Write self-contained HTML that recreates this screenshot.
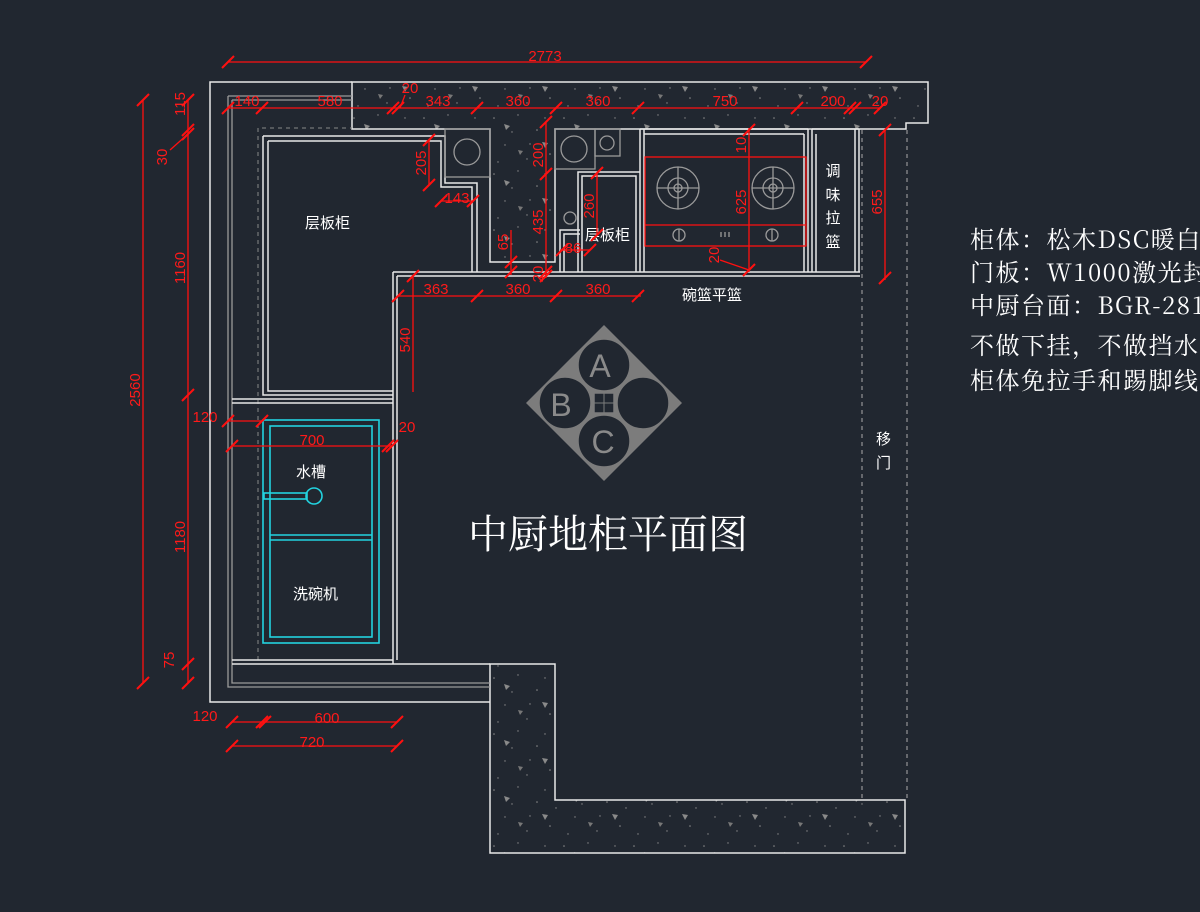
<!DOCTYPE html>
<html><head><meta charset="utf-8"><style>
html,body{margin:0;padding:0;background:#212730;width:1200px;height:912px;overflow:hidden}
svg{display:block}
.w{stroke:#e8e8e8;fill:none;stroke-width:1.5}
.g{stroke:#9a9a9a;fill:none;stroke-width:1.3}
.r{stroke:#ff1010;fill:none;stroke-width:1.3}
.c{stroke:#22d3e0;fill:none;stroke-width:1.6}
.rt{fill:#ff1a1a;font-family:"Liberation Sans",sans-serif;font-size:15px}
.wt{fill:#fff;font-family:"Liberation Sans","Noto Sans CJK SC",sans-serif;font-size:15px}
.st{fill:#fff;font-family:"Liberation Serif","Noto Serif CJK SC",serif}
.nt{fill:#fff;font-family:"Noto Serif CJK SC",serif}
</style></head><body>
<svg width="1200" height="912" viewBox="0 0 1200 912" xmlns="http://www.w3.org/2000/svg">
<defs>
<pattern id="sp" width="70" height="56" patternUnits="userSpaceOnUse">
<g fill="#8a8a8a"><circle cx="4" cy="6" r="0.8"/><circle cx="28" cy="3" r="0.7"/><circle cx="47" cy="18" r="0.8"/><circle cx="15" cy="33" r="0.7"/><circle cx="60" cy="42" r="0.8"/><circle cx="37" cy="47" r="0.7"/><circle cx="8" cy="50" r="0.7"/><circle cx="55" cy="6" r="0.7"/><circle cx="40" cy="32" r="0.7"/><circle cx="66" cy="24" r="0.7"/><circle cx="22" cy="20" r="0.7"/>
<path d="M14 12 l6 2 l-4 4z"/><path d="M52 30 l6 1 l-3 5z"/><path d="M28 38 l5 1 l-3 4z" fill="#777"/></g>
</pattern>
<g id="tk"><line x1="-6" y1="6" x2="6" y2="-6" stroke="#ff1010" stroke-width="2"/></g>
</defs>

<path d="M352 82 H928 V123 H906 V129 H555 V262 H490 V129 H352 Z" style="fill:url(#sp);stroke:#e8e8e8;stroke-width:1.5"/>
<path d="M490 664 H555 V800 H905 V853 H490 Z" style="fill:url(#sp);stroke:#e8e8e8;stroke-width:1.5"/>

<path class="w" d="M352 82 H210 V702 H490"/>
<path class="g" d="M228 96 H352 M228 96 V687 H490 M232 100 H352 M232 100 V683 H490"/>
<path d="M262 128 H352 M258 128 V660" stroke="#888" stroke-dasharray="4 4" fill="none"/>
<line x1="862" y1="130" x2="862" y2="800" stroke="#aaa" stroke-dasharray="4 4"/>
<line x1="907" y1="130" x2="907" y2="800" stroke="#aaa" stroke-dasharray="4 4"/>

<path class="w" d="M263 136 H445 V183 H477 V272"/>
<path class="w" d="M268 141 H441 V187 H472 V272"/>
<path class="w" d="M263 136 V395 H393 M268 141 V391 H393"/>
<rect class="g" x="445" y="129" width="45" height="48"/>
<circle class="g" cx="467" cy="152" r="13"/>
<path class="w" d="M393 272 H860 M397 276 H860 M393 272 V664 M397 276 V660"/>
<path class="w" d="M232 399 H393 M232 403 H393 M232 660 H393 M232 664 H490"/>
<rect class="g" x="555" y="129" width="40" height="40"/>
<circle class="g" cx="574" cy="149" r="13"/>
<rect class="g" x="595" y="129" width="25" height="27"/>
<circle class="g" cx="607" cy="143" r="7"/>
<circle class="g" cx="570" cy="218" r="6"/>
<path class="w" d="M578 272 V172 H640 M582 272 V176 H636 V272 M560 272 V230 H580 M564 272 V234 H580"/>
<path class="w" d="M640 129 V272 M644 129 V272 M640 129 H808 M644 134 H804 M804 134 V272 M808 129 V272 M812 129 V272 M816 134 V272 M855 129 V272 M859 129 V272 M812 129 H859"/>
<rect class="r" x="645" y="157" width="161" height="89" stroke-width="1.6"/>
<line class="r" x1="645" y1="225" x2="806" y2="225"/>
<g class="g" stroke-width="1.6">
<circle cx="678" cy="188" r="21"/><circle cx="678" cy="188" r="10"/><circle cx="678" cy="188" r="4"/>
<path d="M657 188 H699 M678 167 V209"/>
<circle cx="773" cy="188" r="21"/><circle cx="773" cy="188" r="10"/><circle cx="773" cy="188" r="4"/>
<path d="M752 188 H794 M773 167 V209"/>
<circle cx="679" cy="235" r="6"/><line x1="679" y1="229" x2="679" y2="241"/>
<circle cx="772" cy="235" r="6"/><line x1="772" y1="229" x2="772" y2="241"/>
<path d="M721 232 v5 M725 232 v5 M729 232 v5"/>
</g>
<text class="wt" font-size="19" x="833" y="176" text-anchor="middle">调</text>
<text class="wt" font-size="19" x="833" y="200" text-anchor="middle">味</text>
<text class="wt" font-size="19" x="833" y="223" text-anchor="middle">拉</text>
<text class="wt" font-size="19" x="833" y="247" text-anchor="middle">篮</text>
<text class="wt" x="305" y="228">层板柜</text>
<text class="wt" x="585" y="240">层板柜</text>
<text class="wt" x="682" y="300">碗篮平篮</text>

<rect class="c" x="263" y="420" width="116" height="223"/>
<rect class="c" x="270" y="426" width="102" height="211"/>
<path class="c" d="M270 535 H372 M270 540 H372"/>
<rect class="c" x="264" y="493" width="43" height="6"/>
<circle class="c" cx="314" cy="496" r="8"/>
<text class="wt" x="296" y="477">水槽</text>
<text class="wt" x="293" y="599">洗碗机</text>

<g>
<path d="M604 325 L682 403 L604 481 L526 403 Z" fill="#7c7c7c"/>
<g fill="#212730" stroke="#7c7c7c" stroke-width="1.5">
<circle cx="604" cy="365" r="26"/><circle cx="565" cy="403" r="26"/><circle cx="604" cy="441" r="26"/><circle cx="643" cy="403" r="26"/>
<rect x="594" y="393" width="20" height="20"/>
</g>
<path d="M604 393 V413 M594 403 H614" stroke="#7c7c7c"/>
<g fill="#8a8a8a" font-family="Liberation Sans Narrow,Liberation Sans,sans-serif" font-size="32" text-anchor="middle">
<text x="600" y="377">A</text><text x="561" y="416">B</text><text x="603" y="453">C</text></g>
</g>

<text class="st" x="608" y="548" font-size="40" text-anchor="middle">中厨地柜平面图</text>
<text class="wt" font-size="19" x="876" y="444">移</text>
<text class="wt" font-size="19" x="876" y="468">门</text>

<g class="nt" font-size="24" letter-spacing="1.5">
<text x="970" y="248">柜体：松木DSC暖白</text>
<text x="970" y="281">门板：W1000激光封边</text>
<text x="970" y="314">中厨台面：BGR-2818</text>
<text x="970" y="354">不做下挂，不做挡水</text>
<text x="970" y="389">柜体免拉手和踢脚线</text>
</g>

<g class="r">
<line x1="228" y1="62" x2="866" y2="62"/>
<line x1="228" y1="108" x2="880" y2="108"/>
<line x1="398" y1="296" x2="641" y2="296"/>
<line x1="143" y1="100" x2="143" y2="683"/>
<line x1="188" y1="100" x2="188" y2="683"/>
<path d="M188 134 L170 150"/>
<line x1="228" y1="421" x2="262" y2="421"/>
<line x1="232" y1="446" x2="392" y2="446"/>
<line x1="232" y1="722" x2="397" y2="722"/>
<line x1="232" y1="746" x2="397" y2="746"/>
<line x1="413" y1="276" x2="413" y2="392"/>
<line x1="429" y1="140" x2="429" y2="185"/>
<line x1="441" y1="201" x2="473" y2="201"/>
<line x1="546" y1="122" x2="546" y2="278"/>
<line x1="597" y1="173" x2="597" y2="235"/>
<line x1="560" y1="250" x2="590" y2="250"/>
<line x1="511" y1="230" x2="511" y2="275"/>
<line x1="749" y1="128" x2="749" y2="272"/>
<path d="M720 260 L749 270"/>
<line x1="885" y1="130" x2="885" y2="280"/>
<line x1="400" y1="108" x2="405" y2="95"/>
</g>
<g>
<use href="#tk" x="228" y="62"/><use href="#tk" x="866" y="62"/>
<use href="#tk" x="228" y="108"/><use href="#tk" x="262" y="108"/><use href="#tk" x="393" y="108"/><use href="#tk" x="398" y="108"/><use href="#tk" x="477" y="108"/><use href="#tk" x="556" y="108"/><use href="#tk" x="638" y="108"/><use href="#tk" x="797" y="108"/><use href="#tk" x="850" y="108"/><use href="#tk" x="855" y="108"/><use href="#tk" x="880" y="108"/>
<use href="#tk" x="398" y="296"/><use href="#tk" x="477" y="296"/><use href="#tk" x="556" y="296"/><use href="#tk" x="638" y="296"/>
<use href="#tk" x="143" y="100"/><use href="#tk" x="143" y="683"/>
<use href="#tk" x="188" y="100"/><use href="#tk" x="188" y="130"/><use href="#tk" x="188" y="134"/><use href="#tk" x="188" y="395"/><use href="#tk" x="188" y="664"/><use href="#tk" x="188" y="683"/>
<use href="#tk" x="228" y="421"/><use href="#tk" x="262" y="421"/>
<use href="#tk" x="232" y="446"/><use href="#tk" x="392" y="446"/><use href="#tk" x="388" y="446"/>
<use href="#tk" x="232" y="722"/><use href="#tk" x="262" y="722"/><use href="#tk" x="265" y="722"/><use href="#tk" x="397" y="722"/>
<use href="#tk" x="232" y="746"/><use href="#tk" x="397" y="746"/>
<use href="#tk" x="413" y="276"/><use href="#tk" x="429" y="140"/><use href="#tk" x="429" y="185"/>
<use href="#tk" x="441" y="201"/><use href="#tk" x="473" y="201"/>
<use href="#tk" x="546" y="122"/><use href="#tk" x="546" y="174"/><use href="#tk" x="546" y="272"/><use href="#tk" x="546" y="276"/>
<use href="#tk" x="597" y="173"/><use href="#tk" x="597" y="235"/><use href="#tk" x="562" y="250"/><use href="#tk" x="590" y="250"/>
<use href="#tk" x="511" y="262"/><use href="#tk" x="511" y="272"/>
<use href="#tk" x="749" y="130"/><use href="#tk" x="749" y="270"/>
<use href="#tk" x="885" y="130"/><use href="#tk" x="885" y="278"/>
</g>
<g class="rt">
<text x="545" y="61" text-anchor="middle">2773</text>
<text x="247" y="106" text-anchor="middle">140</text>
<text x="330" y="106" text-anchor="middle">580</text>
<text x="410" y="93" text-anchor="middle">20</text>
<text x="438" y="106" text-anchor="middle">343</text>
<text x="518" y="106" text-anchor="middle">360</text>
<text x="598" y="106" text-anchor="middle">360</text>
<text x="725" y="106" text-anchor="middle">750</text>
<text x="833" y="106" text-anchor="middle">200</text>
<text x="880" y="106" text-anchor="middle">20</text>
<text x="436" y="294" text-anchor="middle">363</text>
<text x="518" y="294" text-anchor="middle">360</text>
<text x="598" y="294" text-anchor="middle">360</text>
<text x="457" y="203" text-anchor="middle">143</text>
<text x="573" y="253" text-anchor="middle">86</text>
<text x="205" y="422" text-anchor="middle">120</text>
<text x="312" y="445" text-anchor="middle">700</text>
<text x="407" y="432" text-anchor="middle">20</text>
<text x="205" y="721" text-anchor="middle">120</text>
<text x="327" y="723" text-anchor="middle">600</text>
<text x="312" y="747" text-anchor="middle">720</text>
<g text-anchor="middle">
<text transform="translate(140,390) rotate(-90)">2560</text>
<text transform="translate(185,268) rotate(-90)">1160</text>
<text transform="translate(185,537) rotate(-90)">1180</text>
<text transform="translate(185,104) rotate(-90)">115</text>
<text transform="translate(167,157) rotate(-90)">30</text>
<text transform="translate(174,660) rotate(-90)">75</text>
<text transform="translate(410,340) rotate(-90)">540</text>
<text transform="translate(426,163) rotate(-90)">205</text>
<text transform="translate(543,155) rotate(-90)">200</text>
<text transform="translate(543,222) rotate(-90)">435</text>
<text transform="translate(508,242) rotate(-90)">65</text>
<text transform="translate(543,274) rotate(-90)">20</text>
<text transform="translate(594,206) rotate(-90)">260</text>
<text transform="translate(746,145) rotate(-90)">10</text>
<text transform="translate(746,202) rotate(-90)">625</text>
<text transform="translate(719,255) rotate(-90)">20</text>
<text transform="translate(882,202) rotate(-90)">655</text>
</g>
</g>
</svg>
</body></html>
